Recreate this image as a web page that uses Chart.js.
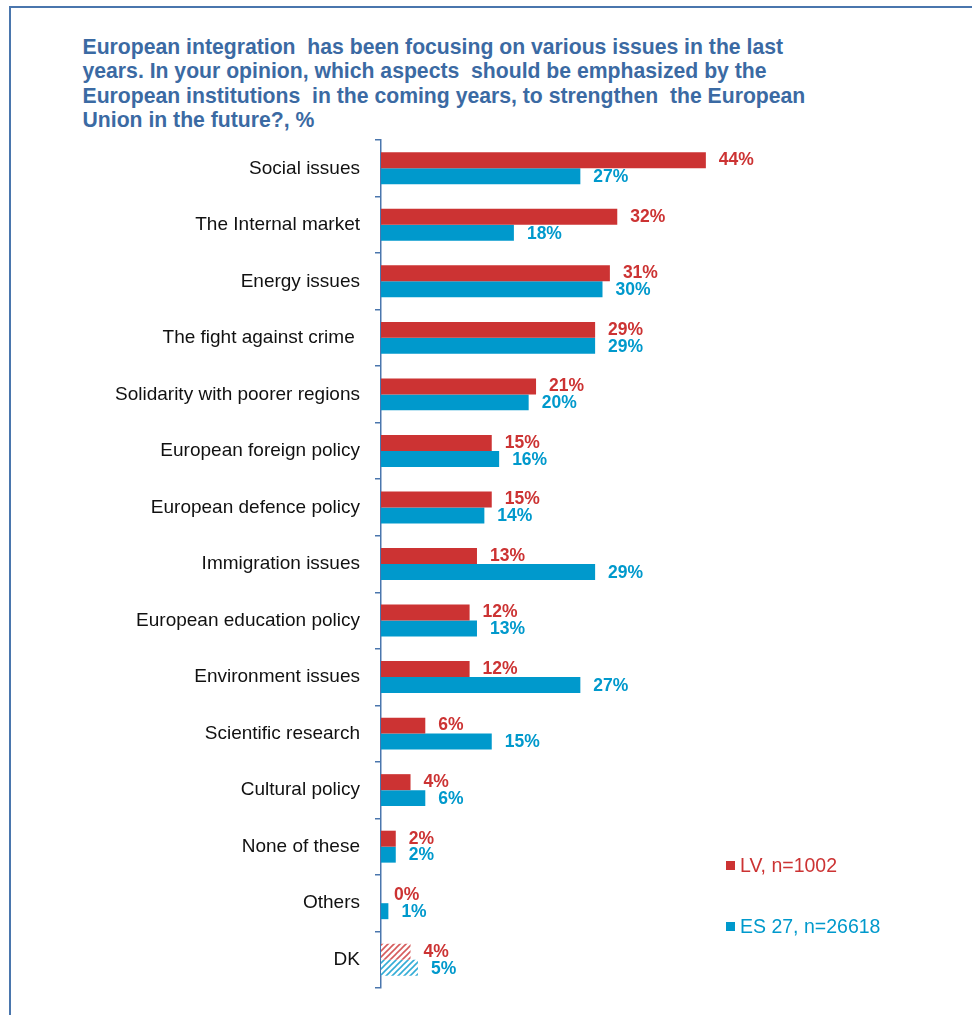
<!DOCTYPE html>
<html>
<head>
<meta charset="utf-8">
<script src="https://cdn.jsdelivr.net/npm/chart.js@4.4.1/dist/chart.umd.min.js"></script>
<style>
  html, body { margin: 0; padding: 0; background: #fff; width: 972px; height: 1015px; overflow: hidden; }
  #frame { position: absolute; left: 9px; top: 6px; width: 1100px; height: 1100px;
           border-top: 2px solid #4a76ad; border-left: 2px solid #4a76ad; }
  #title { position: absolute; left: 82.5px; top: 35px; margin: 0;
           font-family: "Liberation Sans", Arial, sans-serif; font-weight: bold; font-size: 21.2px;
           line-height: 24.3px; color: #3b6aa3; white-space: pre; }
  #chart { position: absolute; left: 0; top: 0; }
</style>
</head>
<body>
<div id="frame"></div>
<div id="title"></div>
<canvas id="chart" width="972" height="1015"></canvas>
<script>
const titleLines = [
  "European integration  has been focusing on various issues in the last",
  "years. In your opinion, which aspects  should be emphasized by the",
  "European institutions  in the coming years, to strengthen  the European",
  "Union in the future?, %"
];
const categories = [
  "Social issues",
  "The Internal market",
  "Energy issues",
  "The fight against crime ",
  "Solidarity with poorer regions",
  "European foreign policy",
  "European defence policy",
  "Immigration issues",
  "European education policy",
  "Environment issues",
  "Scientific research",
  "Cultural policy",
  "None of these",
  "Others",
  "DK"
];
const lvValues = [44, 32, 31, 29, 21, 15, 15, 13, 12, 12, 6, 4, 2, 0, 4];
const euValues = [27, 18, 30, 29, 20, 16, 14, 29, 13, 27, 15, 6, 2, 1, 5];
const seriesNames = ["LV, n=1002", "ES 27, n=26618"];
const hatchedCategory = "DK";

document.getElementById('title').textContent = titleLines.join('\n');

const RED = '#cc3333';
const BLUE = '#0099cc';
const AXIS = '#4a76ad';
const FONT = '"Liberation Sans", Arial, sans-serif';

function hatch(color) {
  const c = document.createElement('canvas');
  c.width = 6; c.height = 6;
  const g = c.getContext('2d');
  g.fillStyle = '#ffffff';
  g.fillRect(0, 0, 6, 6);
  g.strokeStyle = color;
  g.globalAlpha = 0.8;
  g.lineWidth = 1.6;
  g.beginPath();
  g.moveTo(0, 6); g.lineTo(6, 0);
  g.moveTo(-3, 3); g.lineTo(3, -3);
  g.moveTo(3, 9); g.lineTo(9, 3);
  g.stroke();
  return g.createPattern(c, 'repeat');
}
const redHatch = hatch(RED);
const blueHatch = hatch(BLUE);

const lvColors = categories.map(c => c === hatchedCategory ? redHatch : RED);
const euColors = categories.map(c => c === hatchedCategory ? blueHatch : BLUE);

const dataLabels = {
  id: 'dataLabels',
  afterDatasetsDraw(chart) {
    const ctx = chart.ctx;
    ctx.save();
    ctx.font = 'bold 17.5px ' + FONT;
    ctx.textAlign = 'left';
    ctx.textBaseline = 'middle';
    chart.data.datasets.forEach((ds, di) => {
      const meta = chart.getDatasetMeta(di);
      ctx.fillStyle = ds.labelColor;
      meta.data.forEach((bar, i) => {
        ctx.fillText(ds.data[i] + '%', bar.x + 13, bar.y + (di === 1 ? 1 : 0));
      });
    });
    ctx.restore();
  }
};

const legendPlugin = {
  id: 'customLegend',
  afterDraw(chart) {
    const ctx = chart.ctx;
    const ys = [866, 927];
    ctx.save();
    ctx.font = '19.5px ' + FONT;
    ctx.textAlign = 'left';
    ctx.textBaseline = 'middle';
    chart.data.datasets.forEach((ds, di) => {
      ctx.fillStyle = ds.labelColor;
      ctx.fillRect(726, ys[di] - 5, 9, 9);
      ctx.fillText(ds.label, 740, ys[di] + 1);
    });
    ctx.restore();
  }
};

new Chart(document.getElementById('chart'), {
  type: 'bar',
  data: {
    labels: categories,
    datasets: [
      { label: seriesNames[0], data: lvValues, backgroundColor: lvColors, labelColor: RED,
        borderWidth: 0, categoryPercentage: 0.565, barPercentage: 1.0 },
      { label: seriesNames[1], data: euValues, backgroundColor: euColors, labelColor: BLUE,
        borderWidth: 0, categoryPercentage: 0.565, barPercentage: 1.0 }
    ]
  },
  options: {
    indexAxis: 'y',
    responsive: false,
    animation: false,
    devicePixelRatio: 1,
    layout: { padding: { left: 0, top: 140, right: 148, bottom: 27 } },
    plugins: { legend: { display: false }, tooltip: { enabled: false }, title: { display: false } },
    scales: {
      x: { display: false, min: 0, max: 60 },
      y: {
        offset: true,
        grid: { offset: true, drawOnChartArea: false, drawTicks: true, tickLength: 6, color: AXIS, lineWidth: 1.5 },
        border: { display: true, color: AXIS, width: 1.5 },
        ticks: { color: '#111111', font: { family: FONT, size: 19 }, padding: 15, autoSkip: false },
        afterFit(scale) { scale.width = 381; }
      }
    }
  },
  plugins: [dataLabels, legendPlugin]
});
</script>
</body>
</html>
